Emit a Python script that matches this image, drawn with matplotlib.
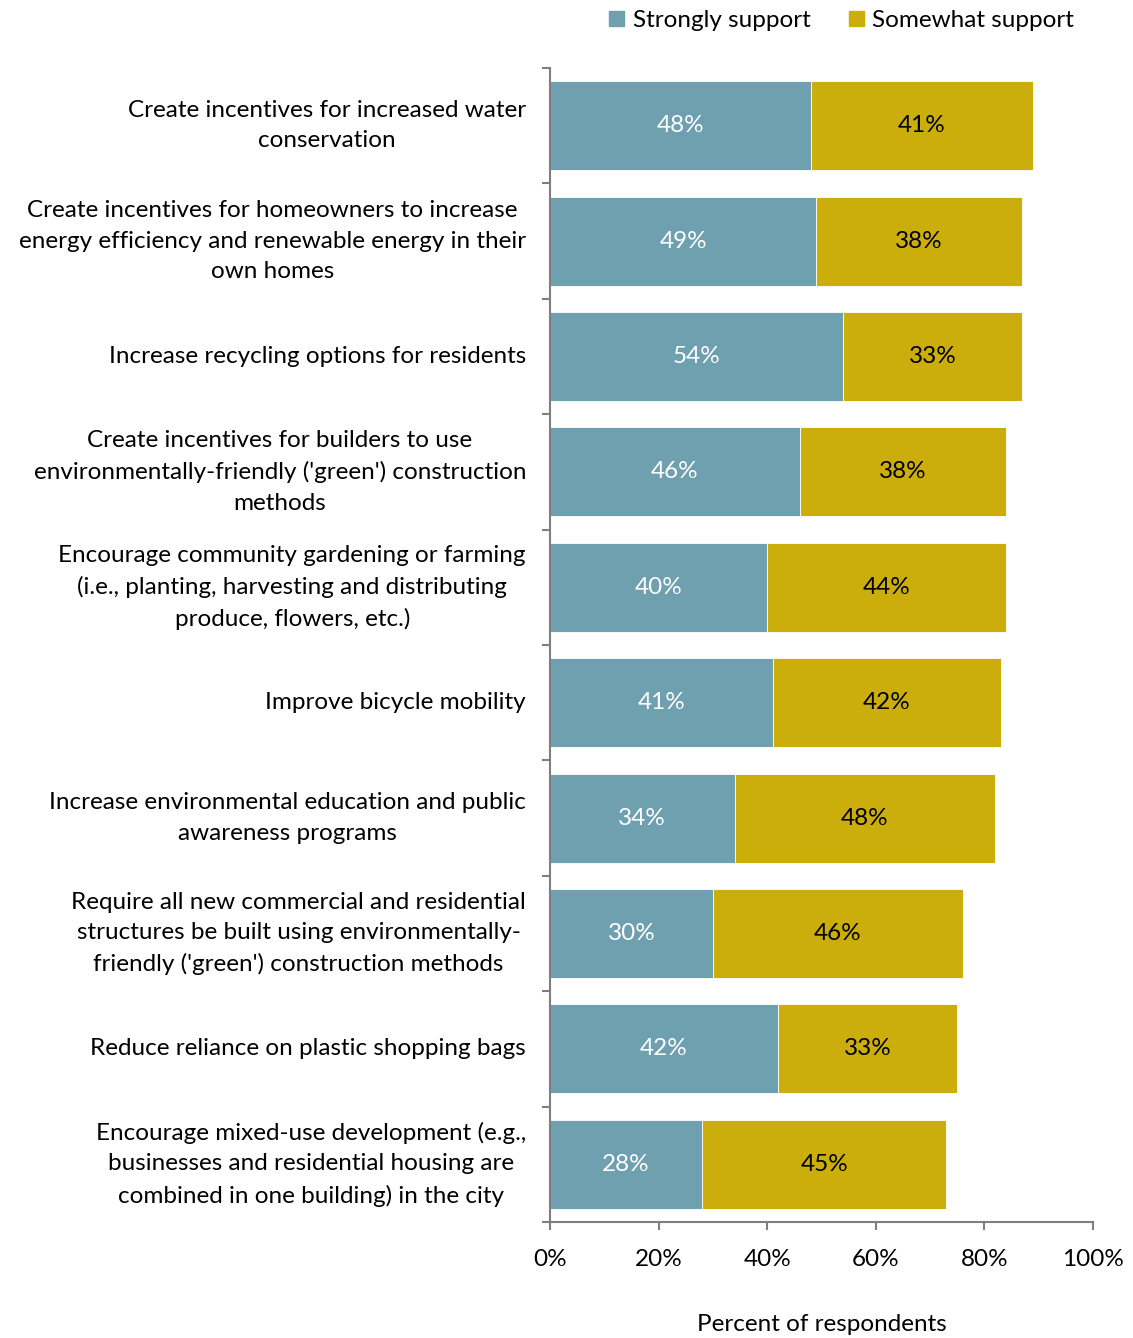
import matplotlib
matplotlib.use("Agg")
import matplotlib.pyplot as plt
import numpy as np
from matplotlib.patches import Patch
from matplotlib.ticker import FixedLocator, FuncFormatter

plt.rcParams["font.family"] = ["Lato", "DejaVu Sans"]

CATEGORIES = [
    "Create incentives for increased water\nconservation",
    "Create incentives for homeowners to increase\nenergy efficiency and renewable energy in their\nown homes",
    "Increase recycling options for residents",
    "Create incentives for builders to use\nenvironmentally-friendly ('green') construction\nmethods",
    "Encourage community gardening or farming\n(i.e., planting, harvesting and distributing\nproduce, flowers, etc.)",
    "Improve bicycle mobility",
    "Increase environmental education and public\nawareness programs",
    "Require all new commercial and residential\nstructures be built using environmentally-\nfriendly ('green') construction methods",
    "Reduce reliance on plastic shopping bags",
    "Encourage mixed-use development (e.g.,\nbusinesses and residential housing are\ncombined in one building) in the city",
]
STRONGLY = [48, 49, 54, 46, 40, 41, 34, 30, 42, 28]
SOMEWHAT = [41, 38, 33, 38, 44, 42, 48, 46, 33, 45]

BLUE = "#6fa0b0"
GOLD = "#cbae0b"
SPINE = "#7f7f7f"
FS = 17.5
PX = 0.72  # points per pixel at dpi 100

fig = plt.figure(figsize=(11.33, 13.38), dpi=100)
ax = fig.add_axes([550 / 1133, 116 / 1338, 543 / 1133, 1154 / 1338])

y = np.arange(len(CATEGORIES))
strong = np.array(STRONGLY)
some = np.array(SOMEWHAT)

ax.barh(y, strong, height=0.77, color=BLUE, edgecolor="white", linewidth=0.6)
ax.barh(y, some, left=strong, height=0.77, color=GOLD, edgecolor="white", linewidth=0.6)

for yi, s, w in zip(y, strong, some):
    ax.text(s / 2, yi, f"{s}%", ha="center", va="center", color="white", fontsize=FS)
    ax.text(s + w / 2, yi, f"{w}%", ha="center", va="center", color="black", fontsize=FS)

ax.set_xlim(0, 100)
ax.set_ylim(len(CATEGORIES) - 0.5, -0.5)

# category labels, right-aligned block with centred lines
ax.set_yticks(y)
ax.set_yticklabels(CATEGORIES, fontsize=FS, multialignment="center",
                   linespacing=1.55, va="center")
ax.tick_params(axis="y", which="major", length=0, pad=24 * PX)
ax.yaxis.set_minor_locator(FixedLocator(np.arange(-0.5, len(CATEGORIES), 1.0)))
ax.tick_params(axis="y", which="minor", length=8 * PX, width=1.5, color=SPINE)

ax.set_xticks(np.arange(0, 101, 20))
ax.xaxis.set_major_formatter(FuncFormatter(lambda v, _: f"{v:.0f}%"))
ax.tick_params(axis="x", length=8 * PX, width=1.5, color=SPINE, labelsize=FS, pad=19 * PX)
ax.set_xlabel("Percent of respondents", fontsize=FS, labelpad=44 * PX)

for side in ("top", "right"):
    ax.spines[side].set_visible(False)
for side in ("left", "bottom"):
    ax.spines[side].set_color(SPINE)
    ax.spines[side].set_linewidth(1.5)

handles = [Patch(color=BLUE, label="Strongly support"),
           Patch(color=GOLD, label="Somewhat support")]
fig.legend(handles=handles, loc="upper right", bbox_to_anchor=(1096 / 1133, 1.009),
           ncol=2, frameon=False, fontsize=FS, handlelength=0.6, handleheight=0.6,
           handletextpad=0.35, columnspacing=1.6)

fig.savefig("out.png", dpi=100)
